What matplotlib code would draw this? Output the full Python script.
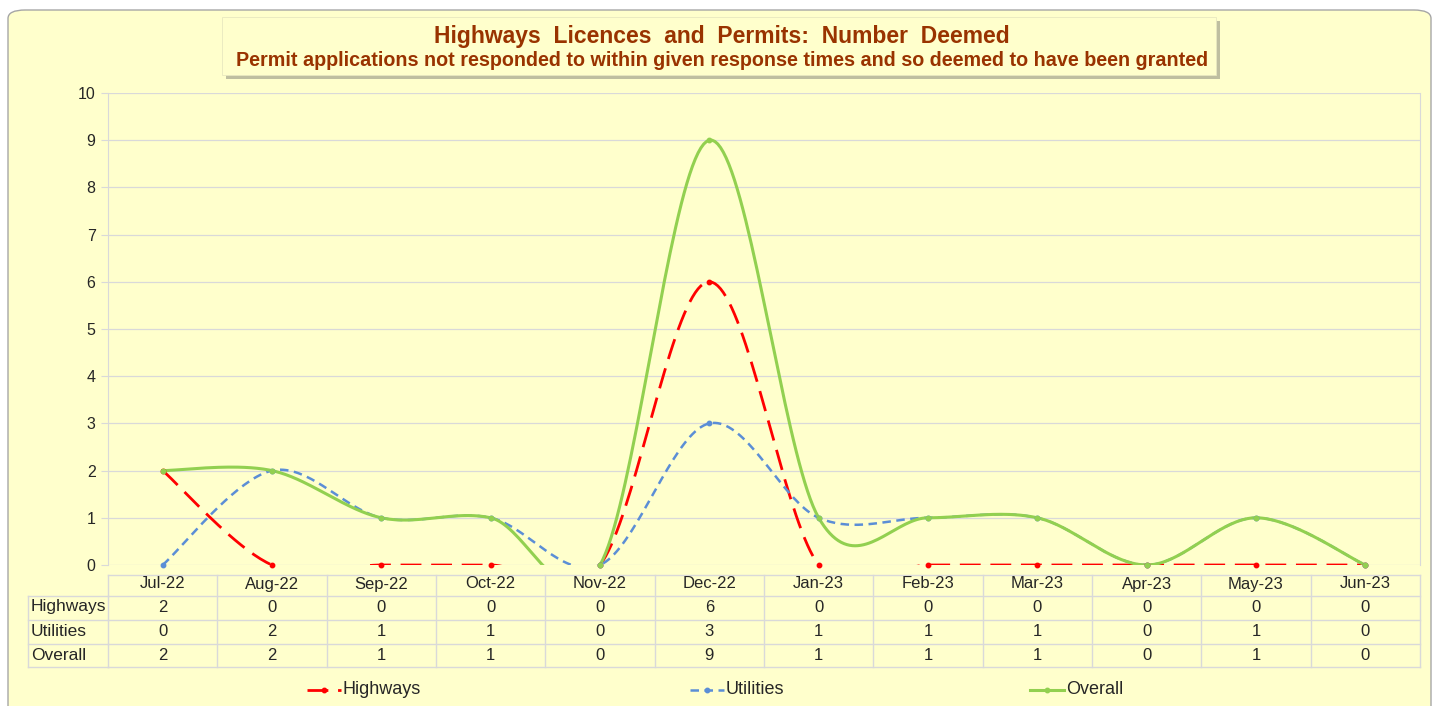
import matplotlib.pyplot as plt
import numpy as np
from matplotlib.patches import FancyBboxPatch, Rectangle
from matplotlib.lines import Line2D
from matplotlib.transforms import blended_transform_factory

# data
months = ["Jul-22", "Aug-22", "Sep-22", "Oct-22", "Nov-22", "Dec-22",
          "Jan-23", "Feb-23", "Mar-23", "Apr-23", "May-23", "Jun-23"]
highways = [2, 0, 0, 0, 0, 6, 0, 0, 0, 0, 0, 0]
utilities = [0, 2, 1, 1, 0, 3, 1, 1, 1, 0, 1, 0]
overall = [2, 2, 1, 1, 0, 9, 1, 1, 1, 0, 1, 0]

series_names = ["Highways", "Utilities", "Overall"]
series_vals = [highways, utilities, overall]
series_colors = ["#FF0000", "#5B8ED6", "#92D050"]
series_ls = [(0, (7.5, 3.5)), (0, (3.4, 2.2)), "-"]
series_lw = [2.0, 1.8, 2.2]

BG = "#FFFFCC"
TITLE_C = "#993300"
GRID_C = "#D9D9D9"
FONT = ["Liberation Sans", "DejaVu Sans"]

W, H = 1434, 706


def smooth(vals, n=40):
    # Excel-like smoothed line: Catmull-Rom converted to cubic Bezier
    pts = np.column_stack([np.arange(len(vals)), np.array(vals, float)])
    t = np.linspace(0, 1, n)[:, None]
    out = []
    for i in range(len(pts) - 1):
        p0 = pts[i - 1] if i > 0 else pts[i]
        p1, p2 = pts[i], pts[i + 1]
        p3 = pts[i + 2] if i + 2 < len(pts) else pts[i + 1]
        c1 = p1 + (p2 - p0) / 6
        c2 = p2 - (p3 - p1) / 6
        seg = ((1 - t) ** 3) * p1 + 3 * ((1 - t) ** 2) * t * c1 \
            + 3 * (1 - t) * t ** 2 * c2 + t ** 3 * p2
        out.append(seg if i == 0 else seg[1:])
    out = np.vstack(out)
    return out[:, 0], out[:, 1]


def fx(px):
    return px / W


def fy(py):
    return 1 - py / H


fig = plt.figure(figsize=(W / 100, H / 100), dpi=100)
fig.patch.set_facecolor("white")

# chart frame
fig.patches.append(FancyBboxPatch((fx(8), fy(740)), fx(1423), (740 - 10) / H,
                                  boxstyle="round,pad=0,rounding_size=0.012",
                                  transform=fig.transFigure, facecolor=BG,
                                  edgecolor="#A6A6A6", linewidth=1.0, zorder=-10))

# title box with shadow
fig.patches.append(Rectangle((fx(226), fy(79)), fx(994), 58 / H, transform=fig.transFigure,
                             facecolor="#BFBFA0", edgecolor="none", zorder=1))
fig.patches.append(Rectangle((fx(222), fy(75)), fx(994), 58 / H, transform=fig.transFigure,
                             facecolor=BG, edgecolor="#E8E8C0", linewidth=0.6, zorder=2))
fig.text(fx(722), fy(36), "Highways  Licences  and  Permits:  Number  Deemed",
         ha="center", va="center", fontsize=16.5, fontweight="bold",
         color=TITLE_C, family=FONT, zorder=3)
fig.text(fx(722), fy(61), "Permit applications not responded to within given response times and so deemed to have been granted",
         ha="center", va="center", fontsize=14.2, fontweight="bold",
         color=TITLE_C, family=FONT, zorder=3)

ax = fig.add_axes([fx(108), fy(565), fx(1420 - 108), (565 - 93) / H])
ax.set_zorder(5)
ax.set_facecolor("none")
ax.set_xlim(-0.5, len(months) - 0.5)
ax.set_ylim(0, 10)
ax.set_yticks(range(0, 11))
ax.set_xticks([])
for s in ["top", "bottom"]:
    ax.spines[s].set_visible(False)
ax.spines["left"].set_color(GRID_C)
ax.spines["right"].set_color(GRID_C)
ax.yaxis.grid(True, color=GRID_C, linewidth=0.9)
ax.set_axisbelow(True)
ax.tick_params(axis="y", length=5, color=GRID_C, pad=4, labelsize=11.5, labelcolor="#262626")
for lab in ax.get_yticklabels():
    lab.set_family(FONT)

x = np.arange(len(months))
for name, vals, c, ls, lw in zip(series_names, series_vals, series_colors, series_ls, series_lw):
    sx, sy = smooth(vals)
    ax.plot(sx, sy, color=c, linestyle=ls, linewidth=lw, zorder=3)
    ax.plot(x, vals, linestyle="none", marker="o", markersize=3.2, color=c,
            clip_on=False, zorder=4)

# data table
tr = blended_transform_factory(ax.transData, fig.transFigure)
row_y = [575, 596, 620, 644, 667]
for k, py in enumerate(row_y):
    if k > 0:
        fig.add_artist(Line2D([fx(28), fx(108)], [fy(py), fy(py)], color=GRID_C,
                              linewidth=1, transform=fig.transFigure))
    ax.add_line(Line2D([-0.5, len(months) - 0.5], [fy(py), fy(py)], color=GRID_C,
                       linewidth=1, transform=tr, clip_on=False))
for b in np.arange(-0.5, len(months), 1.0):
    ax.add_line(Line2D([b, b], [fy(575), fy(667)], color=GRID_C, linewidth=1,
                       transform=tr, clip_on=False))
fig.add_artist(Line2D([fx(28), fx(28)], [fy(596), fy(667)], color=GRID_C,
                      linewidth=1, transform=fig.transFigure))

for i, m in enumerate(months):
    ax.text(i, fy(584), m, transform=tr, ha="center", va="center",
            fontsize=12, family=FONT, color="#262626")
for r, (name, vals) in enumerate(zip(series_names, series_vals)):
    cy = fy(607 + 24 * r)
    fig.text(fx(31), cy, name, ha="left", va="center", fontsize=12.5,
             family=FONT, color="#262626")
    for i, v in enumerate(vals):
        ax.text(i, cy, str(v), transform=tr, ha="center", va="center",
                fontsize=12, family=FONT, color="#262626")

# legend
leg_x = [307, 690, 1030]
for name, c, ls, lw, lx in zip(series_names, series_colors, series_ls, series_lw, leg_x):
    fig.add_artist(Line2D([fx(lx), fx(lx + 34)], [fy(690), fy(690)], color=c,
                          linestyle=ls, linewidth=lw, transform=fig.transFigure))
    fig.add_artist(Line2D([fx(lx + 17)], [fy(690)], color=c, marker="o",
                          markersize=3.2, transform=fig.transFigure))
    fig.text(fx(lx + 36), fy(690), name, ha="left", va="center", fontsize=13,
             family=FONT, color="#262626")

fig.savefig("out.png", dpi=100)
